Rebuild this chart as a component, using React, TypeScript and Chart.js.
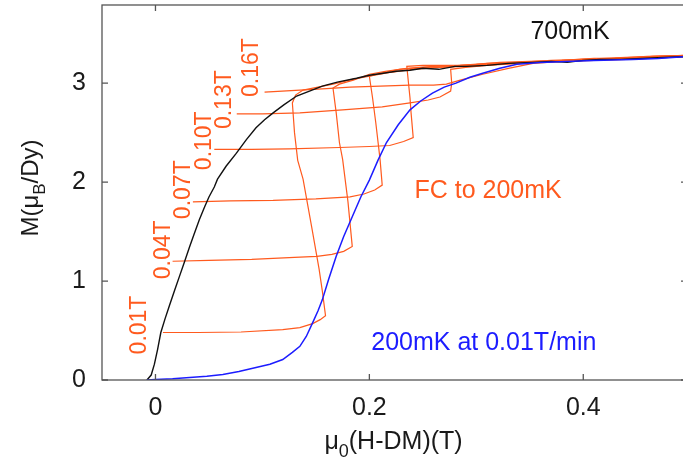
import React, { useEffect, useRef } from 'react';
import { Chart, registerables } from 'chart.js';

Chart.register(...registerables);

const FONT = "'Liberation Sans', Arial, Helvetica, sans-serif";
const ORANGE = '#ff5a1e';
const BLUE = '#1c1cff';
const BLACK = '#111111';
const FRAME = '#555555';
const TEXT = '#1a1a1a';

// axis ticks
const xTickValues = [0, 0.2, 0.4];
const xTickLabels = ['0', '0.2', '0.4'];
const yTickValues = [0, 1, 2, 3];
const yTickLabels = ['0', '1', '2', '3'];

// M vs internal field, 700 mK sweep  [mu0(H-DM) (T), M (muB/Dy)]
const m700mK: [number, number][] = [
  [-0.008, 0.0], [-0.004, 0.05], [-0.001, 0.16], [0.002, 0.31], [0.005, 0.48], [0.009, 0.62],
  [0.013, 0.75], [0.018, 0.91], [0.0225, 1.05], [0.027, 1.19], [0.032, 1.35], [0.036, 1.47],
  [0.041, 1.62], [0.046, 1.75], [0.050, 1.85], [0.055, 1.95], [0.058, 2.03], [0.066, 2.16],
  [0.0755, 2.29], [0.085, 2.43], [0.094, 2.55], [0.102, 2.63], [0.110, 2.70], [0.120, 2.78],
  [0.132, 2.87], [0.144, 2.92], [0.156, 2.97], [0.170, 3.01], [0.188, 3.05], [0.200, 3.08],
  [0.213, 3.10], [0.225, 3.12], [0.238, 3.13], [0.250, 3.15], [0.265, 3.14], [0.280, 3.17],
  [0.291, 3.17], [0.310, 3.18], [0.330, 3.20], [0.353, 3.21], [0.370, 3.22], [0.385, 3.21],
  [0.400, 3.23], [0.416, 3.24], [0.435, 3.24], [0.455, 3.25], [0.475, 3.26], [0.497, 3.27],
];

// 200 mK sweep at 0.01 T/min
const m200mK: [number, number][] = [
  [-0.008, 0.0], [0.0, 0.005], [0.016, 0.013], [0.032, 0.025], [0.048, 0.038], [0.063, 0.056],
  [0.078, 0.085], [0.094, 0.126], [0.107, 0.16], [0.119, 0.207], [0.128, 0.28], [0.135, 0.34],
  [0.141, 0.44], [0.147, 0.58], [0.152, 0.70], [0.156, 0.81], [0.162, 1.02], [0.169, 1.25],
  [0.176, 1.45], [0.184, 1.65], [0.192, 1.85], [0.200, 2.02], [0.208, 2.22], [0.216, 2.40],
  [0.227, 2.58], [0.238, 2.73], [0.248, 2.82], [0.259, 2.90], [0.270, 2.96], [0.281, 3.00],
  [0.294, 3.06], [0.306, 3.10], [0.322, 3.15], [0.338, 3.19], [0.360, 3.21], [0.384, 3.22],
  [0.410, 3.23], [0.446, 3.24], [0.470, 3.25], [0.497, 3.27],
];

// field-cooled to 200 mK, then swept up
const fc001: [number, number][] = [
  [0.007, 0.48], [0.04, 0.48], [0.08, 0.485], [0.119, 0.51], [0.135, 0.53], [0.147, 0.57],
  [0.154, 0.61], [0.159, 0.65], [0.156, 0.90], [0.153, 1.12], [0.146, 1.55], [0.138, 2.03],
  [0.133, 2.22], [0.130, 2.50], [0.128, 2.80], [0.131, 2.88], [0.138, 2.93], [0.152, 2.96],
  [0.166, 2.99], [0.185, 3.04], [0.200, 3.07], [0.220, 3.11], [0.240, 3.14], [0.265, 3.16],
  [0.290, 3.17], [0.320, 3.19], [0.350, 3.21], [0.380, 3.22], [0.410, 3.24], [0.440, 3.25],
  [0.470, 3.26], [0.497, 3.27],
];
const fc004: [number, number][] = [
  [0.016, 1.20], [0.05, 1.21], [0.09, 1.22], [0.13, 1.24], [0.151, 1.25], [0.165, 1.27],
  [0.176, 1.30], [0.184, 1.35], [0.180, 1.80], [0.175, 2.23], [0.172, 2.40], [0.169, 2.70],
  [0.166, 2.95], [0.172, 2.99], [0.185, 3.03], [0.200, 3.09], [0.215, 3.12], [0.235, 3.15],
  [0.260, 3.17], [0.285, 3.18], [0.310, 3.20], [0.340, 3.21], [0.370, 3.22], [0.400, 3.24],
  [0.430, 3.25], [0.460, 3.27], [0.497, 3.28],
];
const fc007: [number, number][] = [
  [0.035, 1.80], [0.07, 1.81], [0.11, 1.815], [0.15, 1.83], [0.182, 1.85], [0.195, 1.88],
  [0.205, 1.92], [0.212, 1.97], [0.210, 2.23], [0.206, 2.60], [0.203, 2.85], [0.200, 3.07],
  [0.210, 3.10], [0.228, 3.14], [0.250, 3.16], [0.280, 3.17], [0.310, 3.19], [0.340, 3.21],
  [0.370, 3.23], [0.400, 3.24], [0.440, 3.26], [0.470, 3.27], [0.497, 3.28],
];
const fc010: [number, number][] = [
  [0.055, 2.33], [0.09, 2.33], [0.125, 2.335], [0.172, 2.35], [0.200, 2.36], [0.219, 2.37],
  [0.232, 2.41], [0.241, 2.45], [0.239, 2.70], [0.238, 2.85], [0.235, 3.17], [0.250, 3.18],
  [0.282, 3.18], [0.300, 3.19], [0.322, 3.21], [0.350, 3.22], [0.380, 3.23], [0.410, 3.25],
  [0.440, 3.25], [0.465, 3.27], [0.497, 3.28],
];
const fc013: [number, number][] = [
  [0.076, 2.69], [0.10, 2.69], [0.135, 2.70], [0.175, 2.73], [0.212, 2.76], [0.238, 2.80],
  [0.255, 2.83], [0.266, 2.86], [0.276, 2.92], [0.277, 3.00], [0.276, 3.14], [0.290, 3.16],
  [0.310, 3.18], [0.340, 3.20], [0.370, 3.22], [0.400, 3.23], [0.430, 3.25], [0.460, 3.26],
  [0.497, 3.27],
];
const fc016: [number, number][] = [
  [0.102, 2.91], [0.135, 2.93], [0.160, 2.945], [0.182, 2.96], [0.210, 2.97], [0.238, 2.98],
  [0.260, 2.98], [0.272, 2.99], [0.285, 3.03], [0.306, 3.09], [0.330, 3.15], [0.353, 3.20],
  [0.380, 3.22], [0.410, 3.23], [0.440, 3.24], [0.470, 3.26], [0.497, 3.27],
];

const fcCurves = [fc001, fc004, fc007, fc010, fc013, fc016];
const fcLabels = ['0.01T', '0.04T', '0.07T', '0.10T', '0.13T', '0.16T'];
// centre of each rotated cooling-field label, in data units
const fcLabelX = [-0.015, 0.0079, 0.0266, 0.0463, 0.065, 0.0902];
const fcLabelY = [0.556, 1.315, 1.923, 2.418, 2.833, 3.157];

type Part = { t: string; sub?: boolean };

function drawParts(ctx: CanvasRenderingContext2D, parts: Part[], size: number, color: string) {
  const subSize = Math.round(size * 0.72);
  let w = 0;
  for (const p of parts) {
    ctx.font = `${p.sub ? subSize : size}px ${FONT}`;
    w += ctx.measureText(p.t).width;
  }
  let x = -w / 2;
  ctx.fillStyle = color;
  ctx.textAlign = 'left';
  ctx.textBaseline = 'alphabetic';
  for (const p of parts) {
    ctx.font = `${p.sub ? subSize : size}px ${FONT}`;
    ctx.fillText(p.t, x, size * 0.36 + (p.sub ? size * 0.3 : 0));
    x += ctx.measureText(p.t).width;
  }
}

const framePlugin = {
  id: 'frameAndText',
  afterDraw(chart: any) {
    const { ctx, chartArea } = chart;
    const { left, top, right, bottom } = chartArea;
    const xs = chart.scales.x;
    const ys = chart.scales.y;
    ctx.save();

    // box with inward ticks on all four sides
    ctx.strokeStyle = FRAME;
    ctx.lineWidth = 1.3;
    ctx.strokeRect(left, top, right - left, bottom - top);
    const tl = 6;
    ctx.beginPath();
    for (const v of xTickValues) {
      const px = xs.getPixelForValue(v);
      ctx.moveTo(px, bottom); ctx.lineTo(px, bottom - tl);
      ctx.moveTo(px, top); ctx.lineTo(px, top + tl);
    }
    for (const v of yTickValues) {
      const py = ys.getPixelForValue(v);
      ctx.moveTo(left, py); ctx.lineTo(left + tl, py);
      ctx.moveTo(right, py); ctx.lineTo(right - tl, py);
    }
    ctx.stroke();

    // cooling-field labels, reading upward
    ctx.fillStyle = ORANGE;
    ctx.font = `23px ${FONT}`;
    ctx.textAlign = 'center';
    ctx.textBaseline = 'middle';
    fcLabels.forEach((label, i) => {
      const px = xs.getPixelForValue(fcLabelX[i]);
      const py = ys.getPixelForValue(fcLabelY[i]);
      ctx.save();
      ctx.translate(px, py);
      ctx.rotate(-Math.PI / 2);
      ctx.fillText(label, 0, 0);
      ctx.restore();
    });

    // curve annotations
    ctx.font = `25px ${FONT}`;
    ctx.fillStyle = BLACK;
    ctx.fillText('700mK', xs.getPixelForValue(0.3876), ys.getPixelForValue(3.511));
    ctx.fillStyle = ORANGE;
    ctx.fillText('FC to 200mK', xs.getPixelForValue(0.311), ys.getPixelForValue(1.912));
    ctx.fillStyle = BLUE;
    ctx.fillText('200mK at 0.01T/min', xs.getPixelForValue(0.307), ys.getPixelForValue(0.374));

    // axis titles
    ctx.save();
    ctx.translate((left + right) / 2 - 1, 440);
    drawParts(ctx, [{ t: '\u03bc' }, { t: '0', sub: true }, { t: '(H-DM)(T)' }], 25, TEXT);
    ctx.restore();

    ctx.save();
    ctx.translate(29, 188);
    ctx.rotate(-Math.PI / 2);
    drawParts(ctx, [{ t: 'M(\u03bc' }, { t: 'B', sub: true }, { t: '/Dy)' }], 24, TEXT);
    ctx.restore();

    ctx.restore();
  },
};

const toPoints = (arr: [number, number][]) => arr.map(([x, y]) => ({ x, y }));

export default function App() {
  const canvasRef = useRef<HTMLCanvasElement | null>(null);

  useEffect(() => {
    const canvas = canvasRef.current;
    if (!canvas) return;
    const chart = new Chart(canvas, {
      type: 'line',
      data: {
        datasets: [
          { label: '200mK at 0.01T/min', data: toPoints(m200mK), borderColor: BLUE, borderWidth: 1.5 },
          { label: '700mK', data: toPoints(m700mK), borderColor: BLACK, borderWidth: 1.4 },
          ...fcCurves.map((c, i) => ({
            label: fcLabels[i],
            data: toPoints(c),
            borderColor: ORANGE,
            borderWidth: 1.2,
          })),
        ],
      },
      options: {
        responsive: false,
        animation: false,
        devicePixelRatio: 1,
        layout: { padding: { top: 5, right: 3, left: 0, bottom: 0 } },
        elements: { point: { radius: 0 }, line: { tension: 0, fill: false } },
        plugins: { legend: { display: false }, tooltip: { enabled: false } },
        scales: {
          x: {
            type: 'linear',
            min: -0.05,
            max: 0.497,
            grid: { display: false, drawTicks: false },
            border: { display: false },
            afterBuildTicks: (s: any) => { s.ticks = xTickValues.map((v) => ({ value: v })); },
            afterFit: (s: any) => {
              s.height = 86;
              s.paddingLeft = 0;
              s.paddingRight = 0;
            },
            ticks: {
              padding: 13,
              autoSkip: false,
              maxRotation: 0,
              color: TEXT,
              font: { family: FONT, size: 25 },
              callback: (_v: any, i: number) => xTickLabels[i],
            },
          },
          y: {
            type: 'linear',
            min: 0,
            max: 3.79,
            grid: { display: false, drawTicks: false },
            border: { display: false },
            afterBuildTicks: (s: any) => { s.ticks = yTickValues.map((v) => ({ value: v })); },
            afterFit: (s: any) => {
              s.width = 102;
              s.paddingTop = 0;
              s.paddingBottom = 0;
            },
            ticks: {
              padding: 16,
              autoSkip: false,
              color: TEXT,
              font: { family: FONT, size: 25 },
              callback: (_v: any, i: number) => yTickLabels[i],
            },
          },
        },
      } as any,
      plugins: [framePlugin],
    });
    return () => chart.destroy();
  }, []);

  return (
    <div
      style={{
        position: 'fixed',
        left: 0,
        top: 0,
        width: 683,
        height: 466,
        overflow: 'hidden',
        background: '#ffffff',
      }}
    >
      <canvas ref={canvasRef} width={690} height={466} style={{ display: 'block' }} />
    </div>
  );
}
